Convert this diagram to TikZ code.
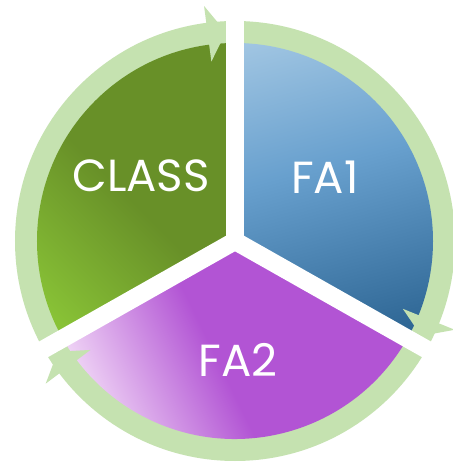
\documentclass[tikz,border=0pt]{standalone}
\usepackage{fontspec}
\setmainfont{Poppins}
\usepackage{tikz}
\usetikzlibrary{calc}

\definecolor{ringgreen}{RGB}{197,226,176}
\definecolor{classdark}{RGB}{104,144,40}
\definecolor{classlight}{RGB}{136,194,54}
\definecolor{faonelight}{RGB}{160,197,226}
\definecolor{faonemid}{RGB}{104,160,206}
\definecolor{faonedark}{RGB}{46,102,148}
\definecolor{fatwo}{RGB}{178,84,212}
\definecolor{fatwolight}{RGB}{246,226,249}

\pgfdeclareverticalshading{classshade}{100bp}{color(0bp)=(classlight); color(20bp)=(classlight); color(48bp)=(classdark); color(100bp)=(classdark)}
\pgfdeclareverticalshading{fatwoshade}{100bp}{color(0bp)=(fatwolight); color(23bp)=(fatwolight); color(47bp)=(fatwo); color(100bp)=(fatwo)}
\pgfdeclareverticalshading{faoneshade}{100bp}{color(0bp)=(faonedark); color(22bp)=(faonedark); color(55bp)=(faonemid); color(80bp)=(faonelight); color(100bp)=(faonelight)}

\tikzset{
  lbl/.style={text=white, font=\fontsize{45}{50}\selectfont, inner sep=0pt},
  gapline/.style={white, line width=18pt},
  ringtip/.style={fill=ringgreen}
}

\begin{document}
\begin{tikzpicture}[x=1pt,y=1pt]
  \useasboundingbox (-235,-224) rectangle (217,241);
  \fill[white] (-235,-224) rectangle (217,241);

  % ring
  \fill[ringgreen, even odd rule] (0,0) circle (220) (0,0) circle (197);

  % three sectors
  \shade[shading=classshade, shading angle=-45] (0,0) -- (90:198) arc (90:209.5:198) -- cycle;
  \shade[shading=faoneshade, shading angle=15] (0,0) -- (90:198) arc (90:-29.5:198) -- cycle;
  \shade[shading=fatwoshade, shading angle=-64] (0,0) -- (-29.5:198) arc (-29.5:-150.5:198) -- cycle;

  % white gaps
  \foreach \a in {90,-29.5,209.5}
    \draw[gapline] (0,0) -- (\a:240);

  % arrow heads on the ring
  \foreach \a in {90,-29.5,209.5}
    \fill[ringtip] (\a+2.5:209) -- (\a+7.5:237) -- (\a+7.5:181) -- cycle;

  % labels
  \node[lbl] (class) at (-94,65) {CLASS};
  \node[lbl] (faone) at (90,64) {FA1};
  \node[lbl] (fatwo) at (3,-119) {FA2};
\end{tikzpicture}
\end{document}
